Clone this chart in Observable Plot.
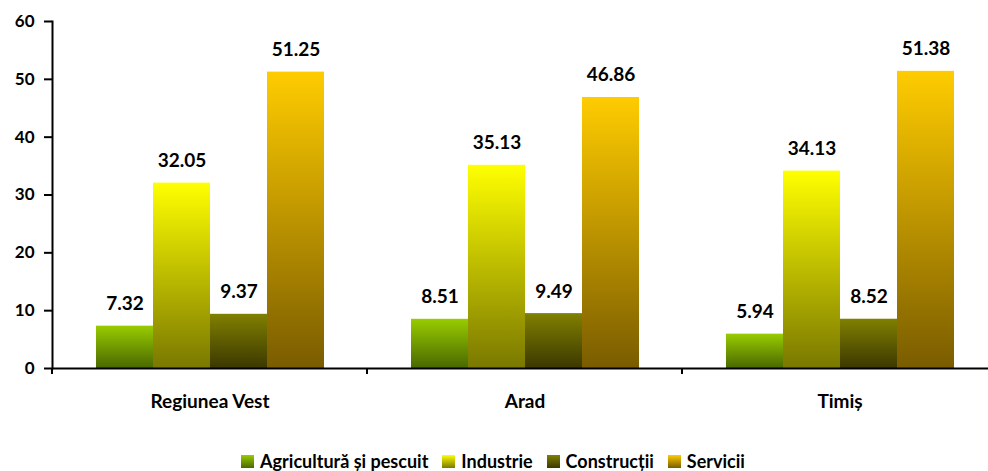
<!DOCTYPE html>
<html><head><meta charset="utf-8">
<script src="https://cdn.jsdelivr.net/npm/d3@7"></script>
<script src="https://cdn.jsdelivr.net/npm/@observablehq/plot@0.6"></script>
<style>
html,body{margin:0;padding:0;background:#fff;overflow:hidden;}
#wrap{width:988px;height:471px;overflow:hidden;position:relative;font-family:Lato,sans-serif;color:#000;}
#chart svg{max-width:none !important;display:block;}
#legend{display:flex;justify-content:center;align-items:center;margin-top:22px;padding-left:12px;font-weight:700;font-size:18px;line-height:18px;height:18px;}
#legend .item{display:flex;align-items:center;margin-right:14px;}
#legend .sw{width:13px;height:13px;margin-right:6px;}
</style></head><body>
<div id="wrap"><div id="chart"></div><div id="legend"></div></div>
<script>
const groups = ["Regiunea Vest", "Arad", "Timiș"];
const series = ["Agricultură și pescuit", "Industrie", "Construcții", "Servicii"];
const agricultura = [7.32, 8.51, 5.94];
const industrie = [32.05, 35.13, 34.13];
const constructii = [9.37, 9.49, 8.52];
const servicii = [51.25, 46.86, 51.38];
const yTicks = [0, 10, 20, 30, 40, 50, 60];
const gradTop = ["#99cc00", "#ffff00", "#808000", "#ffcc00"];
const gradBottom = ["#4a6800", "#7a7800", "#3c3800", "#7a5c00"];

const valuesBySeries = [agricultura, industrie, constructii, servicii];
const data = groups.flatMap((g, i) => series.map((s, j) => ({group: g, series: s, idx: j, value: valuesBySeries[j][i]})));

const plot = Plot.plot({
  width: 998, height: 430,
  marginTop: 21, marginLeft: 51, marginRight: 0, marginBottom: 62,
  style: {fontFamily: "Lato, sans-serif", fontWeight: 700, color: "#000", background: "#fff", maxWidth: "none"},
  fx: {domain: groups, padding: 0, label: null, axis: null},
  x: {domain: series, paddingInner: 0, paddingOuter: 0.72, axis: null},
  y: {domain: [0, 60], label: null, axis: null},
  color: {type: "identity"},
  marks: [
    Plot.barY(data, {fx: "group", x: "series", y: "value", fill: d => `url(#grad${d.idx})`, insetLeft: 0, insetRight: 0}),
    Plot.text(data, {fx: "group", x: "series", y: "value", text: d => d.value.toFixed(2), lineAnchor: "bottom", dy: -16, fontSize: 19, fontWeight: 700, fill: "#000"}),
    Plot.ruleY([0], {stroke: "#000", strokeWidth: 2}),
    Plot.frame({anchor: "left", facetAnchor: "left", stroke: "#000", strokeWidth: 2}),
    Plot.axisY({ticks: yTicks, tickSize: 8, tickPadding: 10, fontSize: 17, fontWeight: 700, label: null, strokeWidth: 2}),
    Plot.axisFx({anchor: "bottom", tickSize: 0, tickPadding: 26, fontSize: 19, fontWeight: 700, label: null})
  ]
});

// gradients
const svg = d3.select(plot);
const defs = svg.insert("defs", ":first-child");
series.forEach((s, j) => {
  const lg = defs.append("linearGradient").attr("id", "grad" + j)
    .attr("x1", 0).attr("y1", 0).attr("x2", 0).attr("y2", 1);
  lg.append("stop").attr("offset", "0%").attr("stop-color", gradTop[j]);
  lg.append("stop").attr("offset", "100%").attr("stop-color", gradBottom[j]);
});

// group separator ticks on the category axis
const fx = plot.scale("fx");
const ys = plot.scale("y");
const y0 = ys.apply(0);
const edges = groups.map(g => fx.apply(g)).concat([fx.apply(groups[groups.length - 1]) + fx.bandwidth]);
svg.append("g").selectAll("line").data(edges).join("line")
  .attr("x1", d => d).attr("x2", d => d)
  .attr("y1", y0).attr("y2", y0 + 6)
  .attr("stroke", "#000").attr("stroke-width", 2);

document.getElementById("chart").append(plot);

const legend = d3.select("#legend");
series.forEach((s, j) => {
  const it = legend.append("div").attr("class", "item");
  it.append("div").attr("class", "sw").style("background", `linear-gradient(to bottom, ${gradTop[j]}, ${gradBottom[j]})`);
  it.append("span").text(s);
});
</script>
</body></html>
